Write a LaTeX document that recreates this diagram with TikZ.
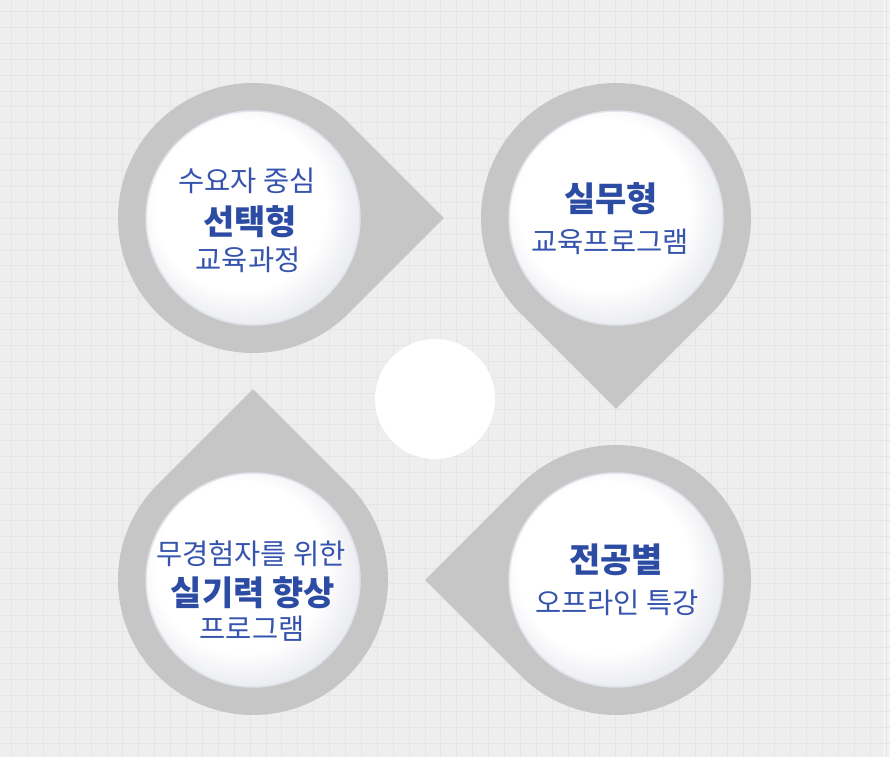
\documentclass[tikz,border=0pt]{standalone}
\usepackage{fontspec}
\setmainfont{Noto Sans CJK KR}
\definecolor{bg}{HTML}{EEEEEE}
\definecolor{bgl}{HTML}{F3F3F3}
\definecolor{gridc}{HTML}{E5E5E5}
\definecolor{drop}{HTML}{C6C6C6}
\definecolor{txt}{HTML}{3654AE}
\definecolor{txtb}{HTML}{2C4BA3}
\definecolor{rim}{HTML}{DFE2EA}
\definecolor{edgec}{HTML}{ECEDF1}
\pgfdeclareradialshading{disc}{\pgfpoint{-5bp}{5bp}}{color(0bp)=(white); color(20bp)=(white); color(27bp)=(edgec); color(50bp)=(edgec)}
\begin{document}
\begin{tikzpicture}[x=1pt,y=1pt,
  lt/.style={font=\fontsize{28.5}{32}\selectfont, text=txt, inner sep=0pt},
  bd/.style={font=\fontsize{34}{38}\selectfont\bfseries, text=txtb, inner sep=0pt},
  dropshape/.style={fill=drop, draw=none},
  discshade/.style={shading=disc},
  discrim/.style={draw=rim, line width=1.5pt}]
\useasboundingbox (0,0) rectangle (890,757);
\fill[bg] (0,0) rectangle (890,757);
\fill[bgl] (883,0) rectangle (890,757);
\foreach \k in {0,...,55} { \draw[gridc, line width=0.8pt] ({11.5+15.9*\k},0) -- ++(0,757); }
\foreach \k in {0,...,47} { \draw[gridc, line width=0.8pt] (0,{757-11.5-15.9*\k}) -- ++(890,0); }
% teardrops
\fill[dropshape] (253,539) ++(45:135) arc[start angle=45,end angle=315,radius=135] -- (443.92,539) -- cycle;
\fill[dropshape] (616,539) ++(-45:135) arc[start angle=-45,end angle=225,radius=135] -- (616,348.08) -- cycle;
\fill[dropshape] (253,177) ++(135:135) arc[start angle=135,end angle=405,radius=135] -- (253,367.92) -- cycle;
\fill[dropshape] (616,177) ++(-135:135) arc[start angle=-135,end angle=135,radius=135] -- (425.08,177) -- cycle;
% inner discs
\foreach \c in {(253,539),(616,539),(253,177),(616,177)} {
  \shade[discshade] \c circle[radius=107];
  \draw[discrim] \c circle[radius=107];
}
% centre circle
\fill[white] (435,358) circle[radius=60];
% texts
\node[lt] (a1) at (247,576) {수요자 중심};
\node[bd] (a2) at (250,535) {선택형};
\node[lt] (a3) at (248,497) {교육과정};
\node[bd] (b1) at (611,558) {실무형};
\node[lt] (b2) at (610,515) {교육프로그램};
\node[lt] (c1) at (251,203) {무경험자를 위한};
\node[bd] (c2) at (253,164) {실기력 향상};
\node[lt] (c3) at (252,128) {프로그램};
\node[bd] (d1) at (616,197) {전공별};
\node[lt] (d2) at (617,154) {오프라인 특강};
\end{tikzpicture}
\end{document}
